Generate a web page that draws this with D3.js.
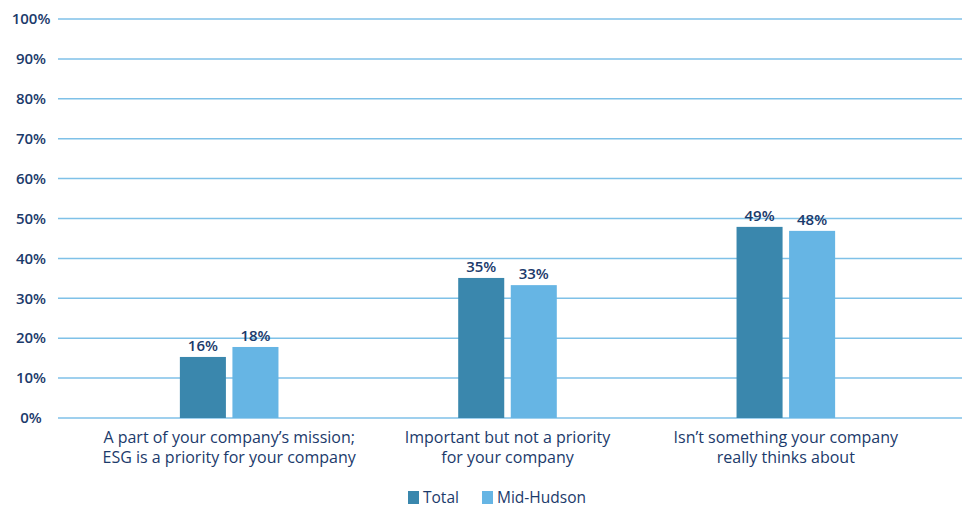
<!DOCTYPE html>
<html>
<head>
<meta charset="utf-8">
<script src="https://cdn.jsdelivr.net/npm/d3@7"></script>
<style>
  html, body { margin: 0; padding: 0; background: #ffffff; }
  svg { display: block; font-family: "Open Sans", "Noto Sans", sans-serif; }
</style>
</head>
<body>
<svg id="chart" width="962" height="508"></svg>
<script>
const categories = [
  ["A part of your company\u2019s mission;", "ESG is a priority for your company"],
  ["Important but not a priority", "for your company"],
  ["Isn\u2019t something your company", "really thinks about"]
];
const seriesNames = ["Total", "Mid-Hudson"];
const totalValues = [15.3, 35.1, 47.9];
const midHudsonValues = [17.8, 33.3, 46.9];
const totalLabels = ["16%", "35%", "49%"];
const midHudsonLabels = ["18%", "33%", "48%"];
const yTicks = [0, 10, 20, 30, 40, 50, 60, 70, 80, 90, 100];

const colors = { "Total": "#3a87ad", "Mid-Hudson": "#66b5e4" };
const textColor = "#1b3a6b";
const gridColor = "#7fc1e8";

const svg = d3.select("#chart");
const W = 962;

const y = d3.scaleLinear().domain([0, 100]).range([418, 19]);
const x0 = d3.scaleBand().domain(d3.range(categories.length)).range([90, 925]).paddingInner(0).paddingOuter(0);
const x1 = d3.scaleBand().domain(seriesNames).range([0, x0.bandwidth()]).paddingInner(0.124).paddingOuter(1.71);

// gridlines
svg.append("g").selectAll("line").data(yTicks).join("line")
  .attr("x1", 58).attr("x2", W)
  .attr("y1", d => y(d)).attr("y2", d => y(d))
  .attr("stroke", gridColor).attr("stroke-width", 1.5);

// y labels
svg.append("g").selectAll("text").data(yTicks).join("text")
  .attr("x", 31).attr("y", d => y(d)).attr("dy", "0.35em")
  .attr("text-anchor", "middle")
  .attr("fill", textColor).attr("font-size", 15).attr("font-weight", 600)
  .text(d => d + "%");

const rows = categories.map((c, i) => ({
  i,
  vals: [
    { s: "Total", v: totalValues[i], label: totalLabels[i] },
    { s: "Mid-Hudson", v: midHudsonValues[i], label: midHudsonLabels[i] }
  ]
}));

const groups = svg.append("g").selectAll("g").data(rows).join("g")
  .attr("transform", d => `translate(${x0(d.i)},0)`);

groups.selectAll("rect").data(d => d.vals).join("rect")
  .attr("x", d => x1(d.s)).attr("width", x1.bandwidth())
  .attr("y", d => y(d.v)).attr("height", d => y(0) - y(d.v))
  .attr("fill", d => colors[d.s]);

groups.selectAll("text.val").data(d => d.vals).join("text")
  .attr("class", "val")
  .attr("x", d => x1(d.s) + x1.bandwidth() / 2)
  .attr("y", d => y(d.v) - 6)
  .attr("text-anchor", "middle")
  .attr("fill", textColor).attr("font-size", 15).attr("font-weight", 600)
  .text(d => d.label);

// category labels
const cat = svg.append("g").selectAll("text").data(categories).join("text")
  .attr("text-anchor", "middle")
  .attr("fill", textColor).attr("font-size", 16);
cat.each(function(d, i) {
  const t = d3.select(this);
  d.forEach((line, k) => {
    t.append("tspan").attr("x", x0(i) + x0.bandwidth() / 2).attr("y", 443 + k * 20).text(line);
  });
});

// legend
const legend = svg.append("g");
const legendItems = [{ s: "Total", x: 408 }, { s: "Mid-Hudson", x: 482 }];
legendItems.forEach(it => {
  legend.append("rect").attr("x", it.x).attr("y", 491).attr("width", 11).attr("height", 13).attr("fill", colors[it.s]);
  legend.append("text").attr("x", it.x + 15).attr("y", 503)
    .attr("fill", textColor).attr("font-size", 15.5).text(it.s);
});
</script>
</body>
</html>
